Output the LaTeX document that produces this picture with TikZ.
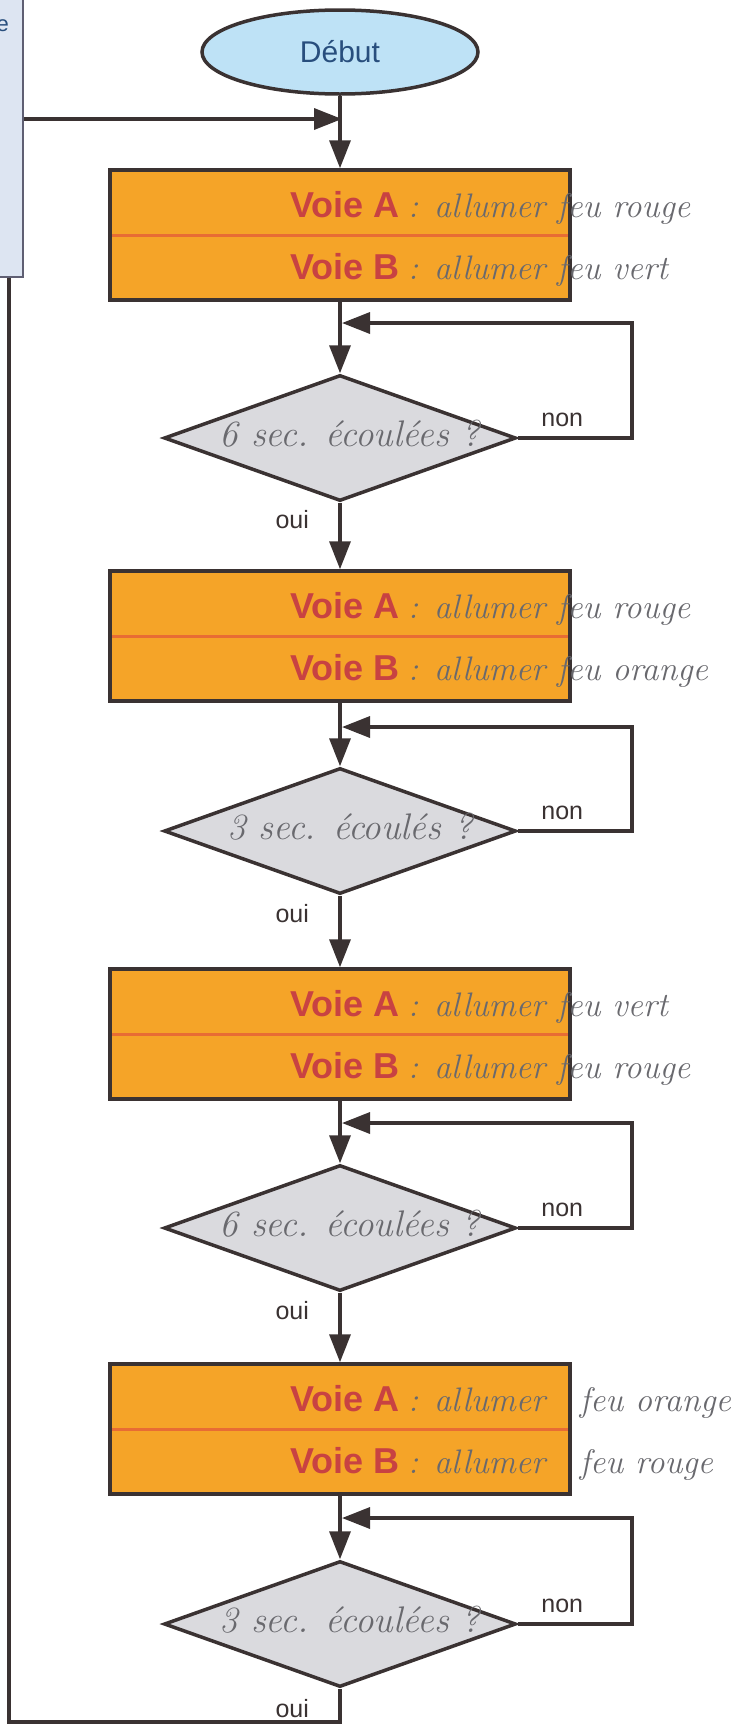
\documentclass[tikz,border=0pt]{standalone}
\usepackage{fontspec}
\usetikzlibrary{shapes.geometric, positioning, calc, arrows.meta}
\newfontfamily\arialFont{Liberation Sans}
\definecolor{myDark}{RGB}{58,50,50}
\definecolor{myOrange}{RGB}{245,164,40}
\definecolor{myDivider}{RGB}{232,108,52}
\definecolor{myRed}{RGB}{200,66,66}
\definecolor{myGray}{RGB}{218,218,222}
\definecolor{myBlue}{RGB}{190,226,246}
\definecolor{myBlueText}{RGB}{40,78,125}
\definecolor{myPencil}{RGB}{105,105,110}
\definecolor{myPanel}{RGB}{221,229,242}
\definecolor{myPanelLine}{RGB}{95,95,115}
\tikzset{startNode/.style={shape=ellipse, draw=myDark, line width=3.5pt, fill=myBlue, minimum width=276pt, minimum height=84pt, font=\arialFont\fontsize{30}{32}\selectfont, text=myBlueText}}
\tikzset{actionNode/.style={shape=rectangle, draw=myDark, line width=3.5pt, fill=myOrange, minimum width=460pt, minimum height=130pt, inner sep=0pt}}
\tikzset{testNode/.style={shape=diamond, draw=myDark, line width=3.5pt, fill=myGray, minimum width=352pt, minimum height=126pt, inner sep=0pt}}
\tikzset{voieText/.style={anchor=base east, inner sep=0pt, font=\arialFont\bfseries\fontsize{36}{38}\selectfont, text=myRed}}
\tikzset{handText/.style={anchor=base west, inner sep=0pt, font=\itshape\fontsize{34}{36}\selectfont, text=myPencil}}
\tikzset{questionText/.style={inner sep=0pt, font=\itshape\fontsize{37}{39}\selectfont, text=myPencil}}
\tikzset{answerText/.style={font=\arialFont\fontsize{25}{27}\selectfont, text=myDark}}
\tikzset{flowLine/.style={draw=myDark, line width=3.5pt, -{Triangle[length=28pt,width=21pt]}}}
\tikzset{divider/.style={draw=myDivider, line width=3pt}}

\begin{document}
\begin{tikzpicture}[x=1pt, y=-1pt]

\useasboundingbox (0,0) rectangle (739,1727);

% Start
\node[startNode] (debut) at (340,52) {Début};
\coordinate (m0) at (342,119);

% Stage 1
\node[actionNode] (b1) at (340,235) {};
\draw[divider] ($(b1.west)+(4,0)$) -- ($(b1.east)+(-4,0)$);
\node[voieText] (va1) at ($(b1.center)+(60,-18)$) {Voie A};
\node[handText] (ha1) at ($(b1.center)+(68,-18)$) {: allumer feu rouge};
\node[voieText] (vb1) at ($(b1.center)+(60,44)$) {Voie B};
\node[handText] (hb1) at ($(b1.center)+(68,44)$) {: allumer feu vert};
\node[testNode] (t1) at (340,438) {};
\node[questionText] (q1) at ($(t1.center)+(10,-4)$) {6 sec. écoulées ?};
\coordinate (m1) at (342,323);

% Stage 2
\node[actionNode] (b2) at (340,636) {};
\draw[divider] ($(b2.west)+(4,0)$) -- ($(b2.east)+(-4,0)$);
\node[voieText] (va2) at ($(b2.center)+(60,-18)$) {Voie A};
\node[handText] (ha2) at ($(b2.center)+(68,-18)$) {: allumer feu rouge};
\node[voieText] (vb2) at ($(b2.center)+(60,44)$) {Voie B};
\node[handText] (hb2) at ($(b2.center)+(68,44)$) {: allumer feu orange};
\node[testNode] (t2) at (340,831) {};
\node[questionText] (q2) at ($(t2.center)+(10,-4)$) {3 sec. écoulés ?};
\coordinate (m2) at (342,727);

% Stage 3
\node[actionNode] (b3) at (340,1034) {};
\draw[divider] ($(b3.west)+(4,0)$) -- ($(b3.east)+(-4,0)$);
\node[voieText] (va3) at ($(b3.center)+(60,-18)$) {Voie A};
\node[handText] (ha3) at ($(b3.center)+(68,-18)$) {: allumer feu vert};
\node[voieText] (vb3) at ($(b3.center)+(60,44)$) {Voie B};
\node[handText] (hb3) at ($(b3.center)+(68,44)$) {: allumer feu rouge};
\node[testNode] (t3) at (340,1228) {};
\node[questionText] (q3) at ($(t3.center)+(10,-4)$) {6 sec. écoulées ?};
\coordinate (m3) at (342,1123);

% Stage 4
\node[actionNode] (b4) at (340,1429) {};
\draw[divider] ($(b4.west)+(4,0)$) -- ($(b4.east)+(-4,0)$);
\node[voieText] (va4) at ($(b4.center)+(60,-18)$) {Voie A};
\node[handText] (ha4) at ($(b4.center)+(68,-18)$) {: allumer};
\node[handText] (fa4) at ($(b4.east)+(8,-18)$) {feu orange};
\node[voieText] (vb4) at ($(b4.center)+(60,44)$) {Voie B};
\node[handText] (hb4) at ($(b4.center)+(68,44)$) {: allumer};
\node[handText] (fb4) at ($(b4.east)+(8,44)$) {feu rouge};
\node[testNode] (t4) at (340,1624) {};
\node[questionText] (q4) at ($(t4.center)+(10,-4)$) {3 sec. écoulées ?};
\coordinate (m4) at (342,1518);

% Arrows
\draw[flowLine] (debut.south) -- (b1.north);
\draw[flowLine] (b1.south) -- (t1.north);
\draw[flowLine] (t1.east) -- node[answerText, pos=0.39, above=6pt] {non} ++(114,0) |- (m1);
\draw[flowLine] (t1.south) -- node[answerText, near start, left=26pt] {oui} (b2.north);
\draw[flowLine] (b2.south) -- (t2.north);
\draw[flowLine] (t2.east) -- node[answerText, pos=0.39, above=6pt] {non} ++(114,0) |- (m2);
\draw[flowLine] (t2.south) -- node[answerText, near start, left=26pt] {oui} (b3.north);
\draw[flowLine] (b3.south) -- (t3.north);
\draw[flowLine] (t3.east) -- node[answerText, pos=0.39, above=6pt] {non} ++(114,0) |- (m3);
\draw[flowLine] (t3.south) -- node[answerText, near start, left=26pt] {oui} (b4.north);
\draw[flowLine] (b4.south) -- (t4.north);
\draw[flowLine] (t4.east) -- node[answerText, pos=0.39, above=6pt] {non} ++(114,0) |- (m4);

% Loop back
\coordinate (bl) at (9,1722);
\coordinate (tl) at (9,119);
\draw[flowLine] (t4.south) -- node[answerText, pos=0.6, left=26pt] {oui} (t4.south |- bl) -- (bl) -- (tl) -- (m0);

% Side panel
\filldraw[fill=myPanel, draw=myPanelLine, line width=1.5pt] (-10,-10) rectangle (23,277);
\node[anchor=base east, inner sep=0pt, text=myBlueText, font=\arialFont\fontsize{22}{24}\selectfont] (panelTxt) at (9,31) {e};

\end{tikzpicture}
\end{document}
